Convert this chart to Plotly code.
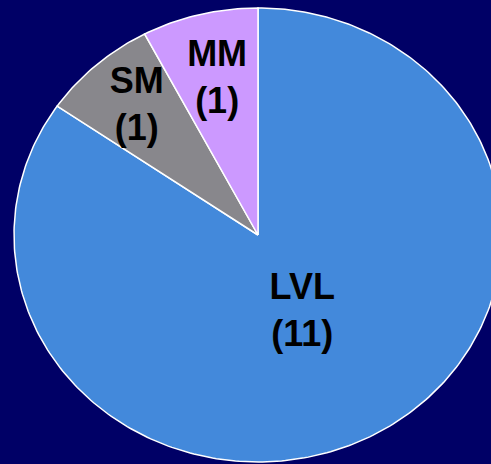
import numpy as np
import plotly.graph_objects as go

# Slice data (drawn clockwise from 12 o'clock)
categories = ["LVL", "SM", "MM"]
counts = [11, 1, 1]

# Styling
colors = ["#4389DB", "#88878C", "#CC99FF"]
label_radius = [0.39, 0.75, 0.70]   # label distance from centre, fraction of radius
background = "#000066"

W, H = 491, 464
# Pie drawn as a slightly flattened disc: unit circle in data space
x_range = [-1.0574, 0.9549]
y_range = [-1.0088, 1.0352]

fig = go.Figure()

total = sum(counts)
start = 0.0
for name, val, col, lr in zip(categories, counts, colors, label_radius):
    sweep = 2 * np.pi * val / total
    th = np.linspace(start, start + sweep, max(int(400 * val / total), 30))
    xs = np.concatenate([[0], np.sin(th), [0]])
    ys = np.concatenate([[0], np.cos(th), [0]])
    fig.add_trace(go.Scatter(
        x=xs, y=ys, mode="lines", fill="toself", fillcolor=col,
        line=dict(color="white", width=1.5), hoverinfo="skip", showlegend=False,
    ))
    mid = start + sweep / 2
    fig.add_trace(go.Scatter(
        x=[lr * np.sin(mid)], y=[lr * np.cos(mid)], mode="text",
        text=[f"{name}<br>({val})"], textposition="middle center",
        textfont=dict(family="Liberation Sans, Arial", size=36, color="black", weight="bold"),
        hoverinfo="skip", showlegend=False,
    ))
    start += sweep

fig.update_layout(
    width=W, height=H,
    margin=dict(l=0, r=0, t=0, b=0),
    paper_bgcolor=background, plot_bgcolor=background,
    xaxis=dict(range=x_range, visible=False, fixedrange=True),
    yaxis=dict(range=y_range, visible=False, fixedrange=True),
)

fig.write_html("out.html")
